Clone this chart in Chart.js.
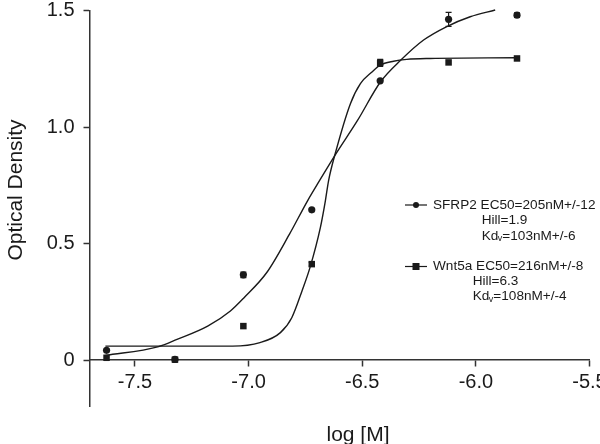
<!DOCTYPE html>
<html><head><meta charset="utf-8">
<script src="https://cdn.jsdelivr.net/npm/chart.js@4.4.0/dist/chart.umd.min.js"></script>
<style>html,body{margin:0;padding:0;background:#fff;}#wrap{width:600px;height:444px;position:relative;}</style>
</head><body><div id="wrap"><canvas id="c" width="600" height="444"></canvas></div>
<script>
// ---- data ----
const xTickValues = [-7.5, -7.0, -6.5, -6.0, -5.5];
const yTickValues = [0, 0.5, 1.0, 1.5];
const doseLog  = [-7.625, -7.324, -7.023, -6.722, -6.421, -6.120, -5.819];
const sfrp2OD  = [0.042, 0.003, 0.366, 0.645, 1.199, 1.463, 1.481];
const sfrp2Err = [0, 0, 0.012, 0, 0, 0.03, 0.01];
const wnt5aOD  = [0.010, 0.002, 0.146, 0.412, 1.276, 1.278, 1.295];
const wnt5aErr = [0, 0, 0, 0.008, 0.015, 0, 0];
const sfrp2FitX = [-7.63, -7.40, -7.315, -7.18, -7.08, -7.02, -6.92, -6.82, -6.74, -6.69, -6.62, -6.52, -6.42, -6.33, -6.23, -6.13, -6.025, -5.915];
const sfrp2FitY = [0.020, 0.057, 0.089, 0.146, 0.211, 0.268, 0.376, 0.541, 0.685, 0.767, 0.879, 1.03, 1.194, 1.288, 1.374, 1.431, 1.474, 1.503];
const wnt5aFitX = [-7.63, -7.07, -6.95, -6.86, -6.81, -6.765, -6.73, -6.684, -6.662, -6.648, -6.619, -6.552, -6.508, -6.457, -6.421, -6.362, -6.304, -6.201, -5.824];
const wnt5aFitY = [0.060, 0.060, 0.075, 0.118, 0.182, 0.297, 0.397, 0.570, 0.685, 0.771, 0.886, 1.101, 1.187, 1.237, 1.266, 1.283, 1.291, 1.295, 1.298];
const seriesNames = ['SFRP2', 'Wnt5a'];
const legendMain = ['SFRP2 EC50=205nM+/-12', 'Wnt5a EC50=216nM+/-8'];
const legendHill = ['Hill=1.9', 'Hill=6.3'];
const legendKd   = ['=103nM+/-6', '=108nM+/-4'];
const xTitle = 'log [M]';
const yTitle = 'Optical Density';

const FONT = '"Liberation Sans", Arial, sans-serif';
const INK = '#1a1a1a';

function pts(xs, ys) { return xs.map((x, i) => ({x: x, y: ys[i]})); }

const errorBars = {
  id: 'errorBars',
  afterDatasetsDraw(chart) {
    const ctx = chart.ctx, xs = chart.scales.x, ys = chart.scales.y;
    const sets = [[doseLog, sfrp2OD, sfrp2Err], [doseLog, wnt5aOD, wnt5aErr]];
    ctx.save();
    ctx.strokeStyle = INK; ctx.lineWidth = 1.2;
    sets.forEach(([xv, yv, ev]) => {
      xv.forEach((x, i) => {
        if (!ev[i]) return;
        const px = xs.getPixelForValue(x);
        const top = ys.getPixelForValue(yv[i] + ev[i]);
        const bot = ys.getPixelForValue(yv[i] - ev[i]);
        ctx.beginPath();
        ctx.moveTo(px, top); ctx.lineTo(px, bot);
        ctx.moveTo(px - 3, top); ctx.lineTo(px + 3, top);
        ctx.moveTo(px - 3, bot); ctx.lineTo(px + 3, bot);
        ctx.stroke();
      });
    });
    ctx.restore();
  }
};

const textLayer = {
  id: 'textLayer',
  afterDraw(chart) {
    const ctx = chart.ctx;
    ctx.save();
    ctx.fillStyle = INK;
    // axis titles
    ctx.font = '21px ' + FONT;
    ctx.textAlign = 'center'; ctx.textBaseline = 'middle';
    ctx.fillText(xTitle, 358, 435);
    ctx.save();
    ctx.translate(16, 190); ctx.rotate(-Math.PI / 2);
    ctx.fillText(yTitle, 0, 0);
    ctx.restore();
    // legend
    const rows = [205, 266.5];
    const gap = [15.5, 15];
    const indent = [481.7, 472.7];
    ctx.font = '13.6px ' + FONT;
    ctx.textAlign = 'left';
    rows.forEach((y, i) => {
      ctx.strokeStyle = INK; ctx.lineWidth = 1.2;
      ctx.beginPath(); ctx.moveTo(405, y); ctx.lineTo(427, y); ctx.stroke();
      ctx.beginPath();
      if (i === 0) { ctx.arc(416, y, 3, 0, Math.PI * 2); ctx.fill(); }
      else { ctx.fillRect(412.5, y - 3.5, 7, 7); }
      ctx.font = '13.6px ' + FONT;
      ctx.fillText(legendMain[i], 433, y);
      ctx.fillText(legendHill[i], indent[i], y + gap[i]);
      const ky = y + 2 * gap[i];
      ctx.fillText('Kd', indent[i], ky);
      const kw = ctx.measureText('Kd').width;
      ctx.font = '9px ' + FONT;
      ctx.fillText('v', indent[i] + kw - 0.5, ky + 3);
      const vw = ctx.measureText('v').width;
      ctx.font = '13.6px ' + FONT;
      ctx.fillText(legendKd[i], indent[i] + kw + vw - 0.5, ky);
    });
    ctx.restore();
  }
};

new Chart(document.getElementById('c'), {
  type: 'scatter',
  data: {
    datasets: [
      { label: seriesNames[0], data: pts(doseLog, sfrp2OD), pointStyle: 'circle', pointRadius: 3.6,
        backgroundColor: INK, borderColor: INK, borderWidth: 0, showLine: false, clip: false },
      { label: seriesNames[1], data: pts(doseLog, wnt5aOD), pointStyle: 'rect', pointRadius: 4.6,
        backgroundColor: INK, borderColor: INK, borderWidth: 0, showLine: false, clip: false },
      { label: seriesNames[0] + ' fit', data: pts(sfrp2FitX, sfrp2FitY), showLine: true, pointRadius: 0,
        borderColor: INK, borderWidth: 1.4, cubicInterpolationMode: 'monotone', fill: false, clip: false },
      { label: seriesNames[1] + ' fit', data: pts(wnt5aFitX, wnt5aFitY), showLine: true, pointRadius: 0,
        borderColor: INK, borderWidth: 1.4, cubicInterpolationMode: 'monotone', fill: false, clip: false }
    ]
  },
  options: {
    responsive: false, animation: false, devicePixelRatio: 1,
    layout: { padding: { left: 0, right: 10.5, top: 10.7, bottom: 37.3 } },
    plugins: { legend: { display: false }, tooltip: { enabled: false } },
    scales: {
      x: {
        type: 'linear', min: -7.7, max: -5.5, position: { y: 0 },
        afterFit(s) { s.paddingLeft = 0; s.paddingRight = 0; },
        afterBuildTicks(s) { s.ticks = xTickValues.map(v => ({ value: v })); },
        ticks: { color: INK, font: { family: FONT, size: 20 }, padding: 4, maxRotation: 0, autoSkip: false,
                 callback: v => v.toFixed(1) },
        grid: { drawOnChartArea: false, drawTicks: true, tickLength: 6, color: '#333', tickWidth: 1.5 },
        border: { display: true, color: '#333', width: 1.5 }
      },
      y: {
        type: 'linear', min: -0.2, max: 1.5, position: 'left',
        afterFit(s) { s.width = 89.5; s.paddingTop = 0; s.paddingBottom = 0; },
        afterBuildTicks(s) { s.ticks = yTickValues.map(v => ({ value: v })); },
        ticks: { color: INK, font: { family: FONT, size: 20 }, padding: 9,
                 callback: v => (v === 0 ? '0' : v.toFixed(1)) },
        grid: { drawOnChartArea: false, drawTicks: true, tickLength: 6, color: '#333', tickWidth: 1.5 },
        border: { display: true, color: '#333', width: 1.5 }
      }
    }
  },
  plugins: [errorBars, textLayer]
});
</script>
</body></html>
